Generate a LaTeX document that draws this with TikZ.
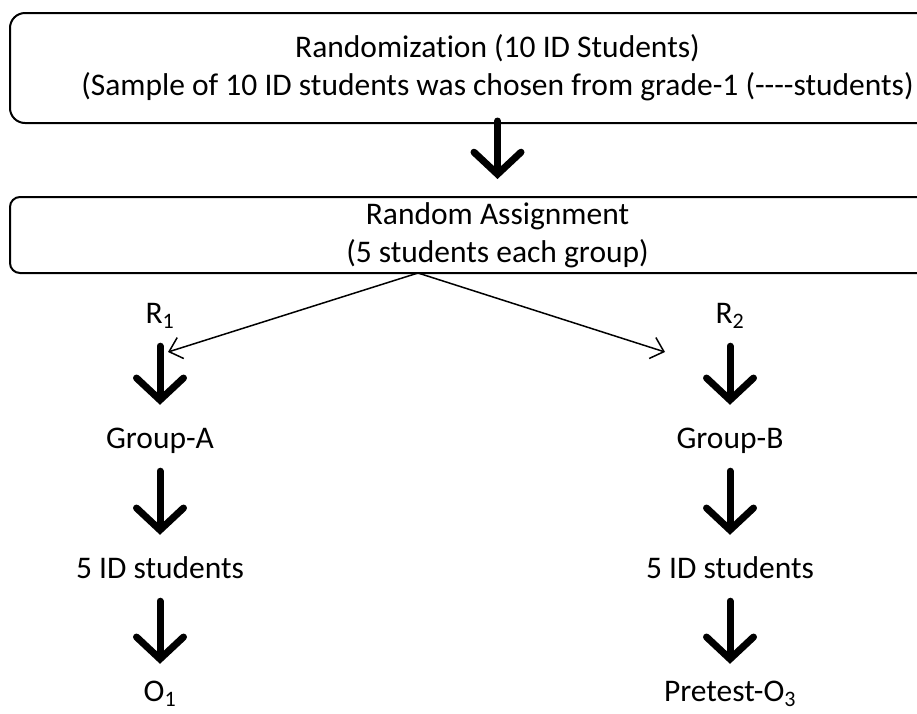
\documentclass[tikz,border=0pt]{standalone}
\usepackage{fontspec}
\setmainfont{Carlito}[Ligatures={NoCommon}]
\usetikzlibrary{arrows.meta}
\tikzset{
roundbox/.style={
	  draw, line width=2pt, rounded corners=15pt,
	    minimum width=975pt, align=center, inner sep=0pt},
lbl/.style={
	  text height=26pt, text depth=6pt, minimum height=66pt, inner sep=0pt},
bigarrow/.style={
	  line width=7pt, line cap=round,
	    -{Straight Barb[length=22pt, width=47pt, line cap=round]}},
thinarrow/.style={
	  line width=1.5pt, -{Straight Barb[length=12pt, width=22pt]}}
}

\begin{document}
\begin{tikzpicture}[x=1pt, y=-1pt, every node/.style={font=\fontsize{31.5}{38}\selectfont}]
	\clip (0,0) rectangle (917,713);
	\node[roundbox, minimum height=110pt] (rand) at (497.5,68)
		{Randomization (10 ID Students)\\(Sample of 10 ID students was chosen from grade-1 (-{}-{}-{}-students)};
	\node[roundbox, rounded corners=10pt, minimum height=76pt] (asg) at (497.5,235)
		{Random Assignment\\(5 students each group)};
	\node[lbl] (r1) at (160,313) {R\textsubscript{1}};
	\node[lbl] (grpA) at (160,438) {Group-A};
	\node[lbl] (idA) at (160,568) {5 ID students};
	\node[lbl] (o1) at (160,691) {O\textsubscript{1}};
	\node[lbl] (r2) at (730,313) {R\textsubscript{2}};
	\node[lbl] (grpB) at (730,438) {Group-B};
	\node[lbl] (idB) at (730,568) {5 ID students};
	\node[lbl] (o3) at (730,691) {Pretest-O\textsubscript{3}};
	\coordinate (split) at (418,273);
	\coordinate (toA) at (168,352);
	\coordinate (toB) at (665,352);
	\draw[bigarrow, shorten <=-3pt, shorten >=17pt] (rand.south) -- (asg.north);
	\draw[thinarrow] (split) -- (toA);
	\draw[thinarrow] (split) -- (toB);
	\draw[bigarrow] (r1) -- (grpA);
	\draw[bigarrow] (grpA) -- (idA);
	\draw[bigarrow, shorten >=-6pt] (idA) -- (o1);
	\draw[bigarrow] (r2) -- (grpB);
	\draw[bigarrow] (grpB) -- (idB);
	\draw[bigarrow, shorten >=-6pt] (idB) -- (o3);
\end{tikzpicture}
\end{document}
